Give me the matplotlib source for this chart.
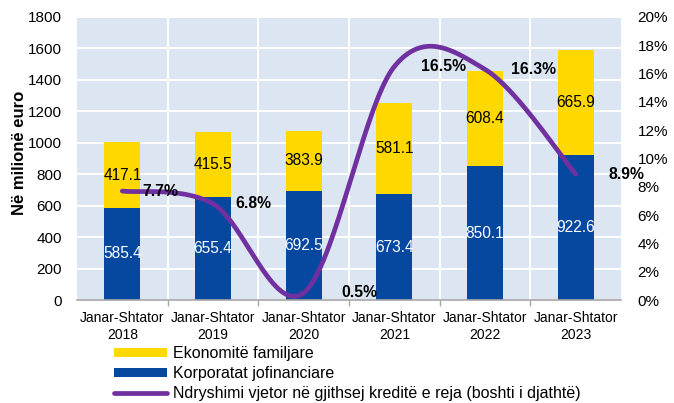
import numpy as np
import matplotlib
matplotlib.use("Agg")
import matplotlib.pyplot as plt
from matplotlib.patches import Patch
from matplotlib.lines import Line2D
from matplotlib.ticker import PercentFormatter, MultipleLocator, FixedLocator

plt.rcParams['font.family'] = ['Liberation Sans', 'DejaVu Sans']

# ---- data ----
periods = ["Janar-Shtator\n2018", "Janar-Shtator\n2019", "Janar-Shtator\n2020",
           "Janar-Shtator\n2021", "Janar-Shtator\n2022", "Janar-Shtator\n2023"]
corporates = [585.4, 655.4, 692.5, 673.4, 850.1, 922.6]
households = [417.1, 415.5, 383.9, 581.1, 608.4, 665.9]
annual_change = [7.7, 6.8, 0.5, 16.5, 16.3, 8.9]

series_labels = ["Ekonomitë familjare", "Korporatat jofinanciare",
                 "Ndryshimi vjetor në gjithsej kreditë e reja (boshti i djathtë)"]

# ---- style ----
C_YEL = "#FFD800"
C_BLU = "#0648A0"
C_PUR = "#7030A0"
C_BG = "#DCE6F2"

fig = plt.figure(figsize=(6.74, 4.03), dpi=100)
ax = fig.add_axes([77/674, 103/403, 544/674, 283/403])
ax.set_facecolor(C_BG)

x = np.arange(len(periods))
w = 0.4
ax.bar(x, corporates, w, color=C_BLU, zorder=2)
ax.bar(x, households, w, bottom=corporates, color=C_YEL, zorder=2)

for xi, c, h in zip(x, corporates, households):
    ax.text(xi, c / 2, f"{c:.1f}", ha="center", va="center", color="white", fontsize=11.2, zorder=3)
    ax.text(xi, c + h / 2, f"{h:.1f}", ha="center", va="center", color="black", fontsize=11.2, zorder=3)

ax.set_xlim(-0.5, len(periods) - 0.5)
ax.set_ylim(0, 1800)
ax.yaxis.set_major_locator(MultipleLocator(200))
ax.set_xticks(x)
ax.set_xticklabels(periods, fontsize=10, linespacing=1.25)
ax.xaxis.set_minor_locator(FixedLocator(np.arange(0.5, len(periods) - 0.5, 1)))
ax.tick_params(axis="x", which="major", length=0, pad=8)
ax.tick_params(axis="x", which="minor", length=4, color="#A6A6A6", width=1)
ax.tick_params(axis="y", length=0, labelsize=11, pad=11)
ax.grid(True, which="major", axis="y", color="white", lw=1.4)
ax.grid(True, which="minor", axis="x", color="white", lw=1.4)
ax.set_axisbelow(True)
for s in ["left", "right", "top"]:
    ax.spines[s].set_visible(False)
ax.spines["bottom"].set_color("#A6A6A6")
ax.spines["bottom"].set_linewidth(1.2)
fig.text(20/674, 1 - 153/403, "Në milionë euro", rotation=90, ha="center", va="center",
         fontsize=12, fontweight="bold")

# ---- right axis, smoothed line (Excel-like Catmull-Rom) ----
ax2 = ax.twinx()
ax2.set_ylim(0, 20)
ax2.yaxis.set_major_locator(MultipleLocator(2))
ax2.yaxis.set_major_formatter(PercentFormatter(decimals=0))
ax2.tick_params(axis="y", length=0, labelsize=11, pad=12)
for s in ["left", "right", "top", "bottom"]:
    ax2.spines[s].set_visible(False)

P = np.column_stack([x.astype(float), np.array(annual_change, float)])
n = len(P)
pts = []
for i in range(n - 1):
    p0 = P[i - 1] if i > 0 else P[i]
    p1 = P[i]
    p2 = P[i + 1]
    p3 = P[i + 2] if i + 2 < n else P[i + 1]
    c1 = p1 + (p2 - p0) / 6
    c2 = p2 - (p3 - p1) / 6
    t = np.linspace(0, 1, 60)[:, None]
    seg = ((1 - t) ** 3) * p1 + 3 * ((1 - t) ** 2) * t * c1 + 3 * (1 - t) * t ** 2 * c2 + t ** 3 * p2
    pts.append(seg if i == 0 else seg[1:])
curve = np.vstack(pts)
ax2.plot(curve[:, 0], curve[:, 1], color=C_PUR, lw=3.4, solid_capstyle="round", zorder=4)

label_dx = [20, 22, 38, 27, 26, 33]
for xi, v, dx in zip(x, annual_change, label_dx):
    ax2.annotate(f"{v:.1f}%", (xi, v), xytext=(dx, 0), textcoords="offset pixels",
                 ha="left", va="center", fontsize=11.3, fontweight="bold", zorder=5)

# ---- legend ----
handles = [Patch(facecolor=C_YEL, edgecolor="none"),
           Patch(facecolor=C_BLU, edgecolor="none"),
           Line2D([0], [0], color=C_PUR, lw=3.4, solid_capstyle="round")]
fig.legend(handles, series_labels, loc="upper left", bbox_to_anchor=(114/674, 1 - 346/403),
           frameon=False, fontsize=11.5, borderpad=0, borderaxespad=0, labelspacing=0.32,
           handlelength=3.3, handleheight=0.5, handletextpad=0.4)

fig.savefig("out.png", dpi=100)
